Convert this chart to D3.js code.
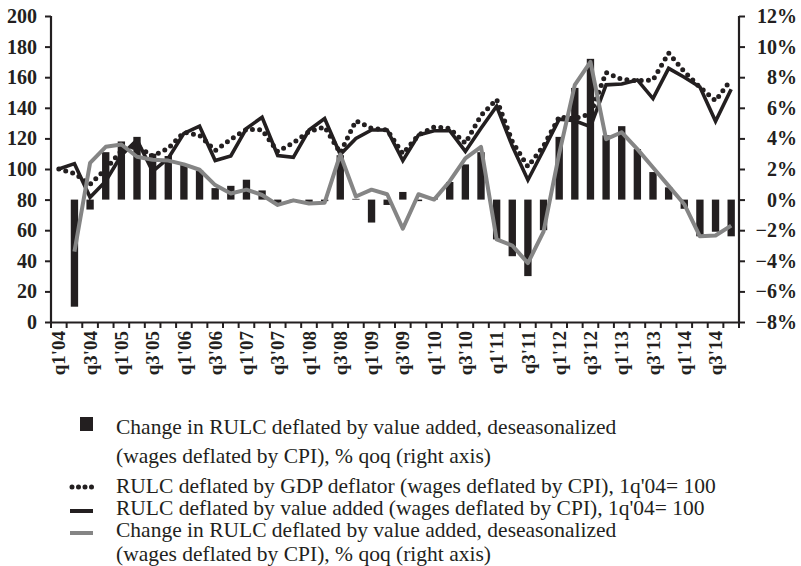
<!DOCTYPE html>
<html>
<head>
<meta charset="utf-8">
<script src="https://cdn.jsdelivr.net/npm/d3@7"></script>
<style>
  body { margin: 0; background: #fff; }
  svg { display: block; }
</style>
</head>
<body>
<div id="chart"></div>
<script>
// quarters q1'04 .. q4'14
var quarters = ["q1'04","q2'04","q3'04","q4'04","q1'05","q2'05","q3'05","q4'05",
  "q1'06","q2'06","q3'06","q4'06","q1'07","q2'07","q3'07","q4'07",
  "q1'08","q2'08","q3'08","q4'08","q1'09","q2'09","q3'09","q4'09",
  "q1'10","q2'10","q3'10","q4'10","q1'11","q2'11","q3'11","q4'11",
  "q1'12","q2'12","q3'12","q4'12","q1'13","q2'13","q3'13","q4'13",
  "q1'14","q2'14","q3'14","q4'14"];

// bars, % qoq (right axis)
var barChange = [null,-7.0,-0.65,3.1,3.8,4.1,3.0,2.85,2.3,1.9,0.75,0.9,1.3,0.6,-0.3,-0.1,
  -0.2,-0.1,2.9,0.05,-1.5,-0.35,0.5,-0.1,0.1,1.15,2.3,3.1,-2.6,-3.7,-5.0,-2.0,
  4.1,7.3,9.2,4.2,4.8,3.3,1.8,0.8,-0.6,-2.4,-2.1,-2.4];

// grey line, % qoq (right axis)
var lineChange = [null,-3.4,2.4,3.45,3.6,2.8,2.6,2.55,2.3,1.95,0.95,0.4,0.65,0.3,-0.35,-0.05,
  -0.25,-0.2,2.95,0.2,0.65,0.35,-1.9,0.35,0.0,1.2,2.7,3.45,-2.6,-3.0,-4.15,-2.1,
  3.0,7.5,9.0,3.95,4.4,3.3,2.1,0.9,-0.3,-2.4,-2.35,-1.7];

// RULC deflated by value added, 1q'04=100
var rulcVA = [100,103.5,81.5,92,109,119,98.5,107,123.3,128,105.5,108.5,126.5,133.8,108.8,107.6,
  125.5,133,109.5,120,125.5,125.5,105.5,122.2,125,125,111.5,126.6,141,115,92.8,112.4,
  132.5,131.5,127.6,155,155.6,158.2,146,165.8,160,153.6,131.2,152.1];

// RULC deflated by GDP deflator, 1q'04=100
var rulcGDP = [100,97,90,100,112,115,108.5,113.5,124,122,112,119.4,126,125.5,111.3,117.2,
  124.4,127.5,110.5,131.6,126.6,125.5,110,122.2,127.5,126.5,116.8,135,145.5,118,101.5,115,
  134,133,136,163,158.6,157.7,158.2,175.8,163.6,153.5,144.6,158.6];

var leftTicks = [0,20,40,60,80,100,120,140,160,180,200];
var rightTicks = [-8,-6,-4,-2,0,2,4,6,8,10,12];

var legendItems = [
  {type:"bar", lines:["Change in RULC deflated by value added, deseasonalized","(wages deflated by CPI), % qoq (right axis)"]},
  {type:"dot", lines:["RULC deflated by GDP deflator (wages deflated by CPI), 1q'04= 100"]},
  {type:"solid", lines:["RULC deflated by value added (wages deflated by CPI), 1q'04= 100"]},
  {type:"grey", lines:["Change in RULC deflated by value added, deseasonalized","(wages deflated by CPI), % qoq (right axis)"]}
];

(function(){
var W = 801, H = 566;
var mLeft = 51, mRight = 739, mTop = 16, mBottom = 322;
var dark = "#231f20", grey = "#858585";
var axisFont = "'Liberation Serif','Times New Roman',serif";

var svg = d3.select("#chart").append("svg")
  .attr("width", W).attr("height", H);

var x = d3.scaleBand().domain(quarters).range([mLeft, mRight]).paddingInner(0.53).paddingOuter(0.265);
var xb = d3.scaleBand().domain(quarters).range([mLeft, mRight]);
var yL = d3.scaleLinear().domain([0,200]).range([mBottom, mTop]);
var yR = d3.scaleLinear().domain([-8,12]).range([mBottom, mTop]);
function cx(i){ return xb(quarters[i]) + xb.bandwidth()/2; }

// bars
svg.append("g").selectAll("rect")
  .data(barChange.map(function(d,i){ return {q:quarters[i], v:d}; }).filter(function(d){ return d.v !== null; }))
  .enter().append("rect")
    .attr("x", function(d){ return x(d.q); })
    .attr("width", x.bandwidth())
    .attr("y", function(d){ return yR(Math.max(0,d.v)); })
    .attr("height", function(d){ return Math.abs(yR(d.v) - yR(0)); })
    .attr("fill", dark);

var lineL = d3.line().defined(function(d){ return d !== null; })
  .x(function(d,i){ return cx(i); }).y(function(d){ return yL(d); });
var lineR = d3.line().defined(function(d){ return d !== null; })
  .x(function(d,i){ return cx(i); }).y(function(d){ return yR(d); });

svg.append("path").datum(rulcGDP)
  .attr("d", lineL).attr("fill","none").attr("stroke", dark)
  .attr("stroke-width", 5).attr("stroke-linecap","round").attr("stroke-dasharray","0,7.2");

svg.append("path").datum(rulcVA)
  .attr("d", lineL).attr("fill","none").attr("stroke", dark)
  .attr("stroke-width", 3.6).attr("stroke-linejoin","miter");

svg.append("path").datum(lineChange)
  .attr("d", lineR).attr("fill","none").attr("stroke", grey)
  .attr("stroke-width", 4).attr("stroke-linejoin","round");

// axes
var axL = svg.append("g").attr("transform","translate("+mLeft+",0)")
  .call(d3.axisLeft(yL).tickValues(leftTicks).tickSize(6).tickPadding(8));
var axR = svg.append("g").attr("transform","translate("+mRight+",0)")
  .call(d3.axisRight(yR).tickValues(rightTicks).tickSize(6).tickPadding(6)
    .tickFormat(function(d){ return (d < 0 ? "\u2212" : "") + Math.abs(d) + "%"; }));
var axB = svg.append("g").attr("transform","translate(0,"+mBottom+")")
  .call(d3.axisBottom(xb).tickSize(0).tickFormat(""));

[axL, axR, axB].forEach(function(a){
  a.select(".domain").attr("stroke", dark).attr("stroke-width", 2.2);
  a.selectAll(".tick line").attr("stroke", dark).attr("stroke-width", 2);
  a.selectAll("text").attr("font-family", axisFont).attr("font-weight","bold")
    .attr("font-size", 20).attr("fill", dark);
});
axL.select(".domain").attr("d", "M0,"+mTop+"V"+mBottom);
axR.select(".domain").attr("d", "M0,"+mTop+"V"+mBottom);
axR.selectAll("text").attr("text-anchor","end").attr("x", 797 - mRight);

// bottom ticks at band edges
axB.selectAll(".edge").data(quarters.concat(["end"])).enter().append("line")
  .attr("x1", function(d,i){ return mLeft + i*xb.bandwidth(); })
  .attr("x2", function(d,i){ return mLeft + i*xb.bandwidth(); })
  .attr("y1", 0).attr("y2", 6).attr("stroke", dark).attr("stroke-width", 2);

// rotated quarter labels
axB.selectAll(".qlab").data(quarters.filter(function(d,i){ return i % 2 === 0; }))
  .enter().append("text")
  .attr("transform", function(d){ return "translate("+(xb(d)+xb.bandwidth()/2)+",9) rotate(-90)"; })
  .attr("dy", "0.35em")
  .attr("text-anchor","end")
  .attr("font-family", axisFont).attr("font-weight","bold").attr("font-size", 19)
  .attr("fill", dark)
  .text(function(d){ return d; });

// legend
var legY = [434, 493, 515, 537];
var legGap = [29, 0, 0, 24];
var leg = svg.append("g").attr("font-family", axisFont).attr("font-size", 21.5).attr("fill", dark);
legendItems.forEach(function(item, k){
  var g = leg.append("g");
  var by = legY[k];
  if (item.type === "bar") {
    g.append("rect").attr("x", 80).attr("y", by-17).attr("width", 13).attr("height", 14).attr("fill", dark);
  } else if (item.type === "dot") {
    g.append("line").attr("x1", 72).attr("x2", 93).attr("y1", by-6).attr("y2", by-6)
      .attr("stroke", dark).attr("stroke-width", 5).attr("stroke-linecap","round").attr("stroke-dasharray","0,6.5");
  } else {
    g.append("line").attr("x1", 70).attr("x2", 93).attr("y1", by-4).attr("y2", by-4)
      .attr("stroke", item.type === "grey" ? grey : dark).attr("stroke-width", 4);
  }
  item.lines.forEach(function(t, j){
    g.append("text").attr("x", 116).attr("y", by + j*legGap[k]).text(t);
  });
});
})();
</script>
</body>
</html>
